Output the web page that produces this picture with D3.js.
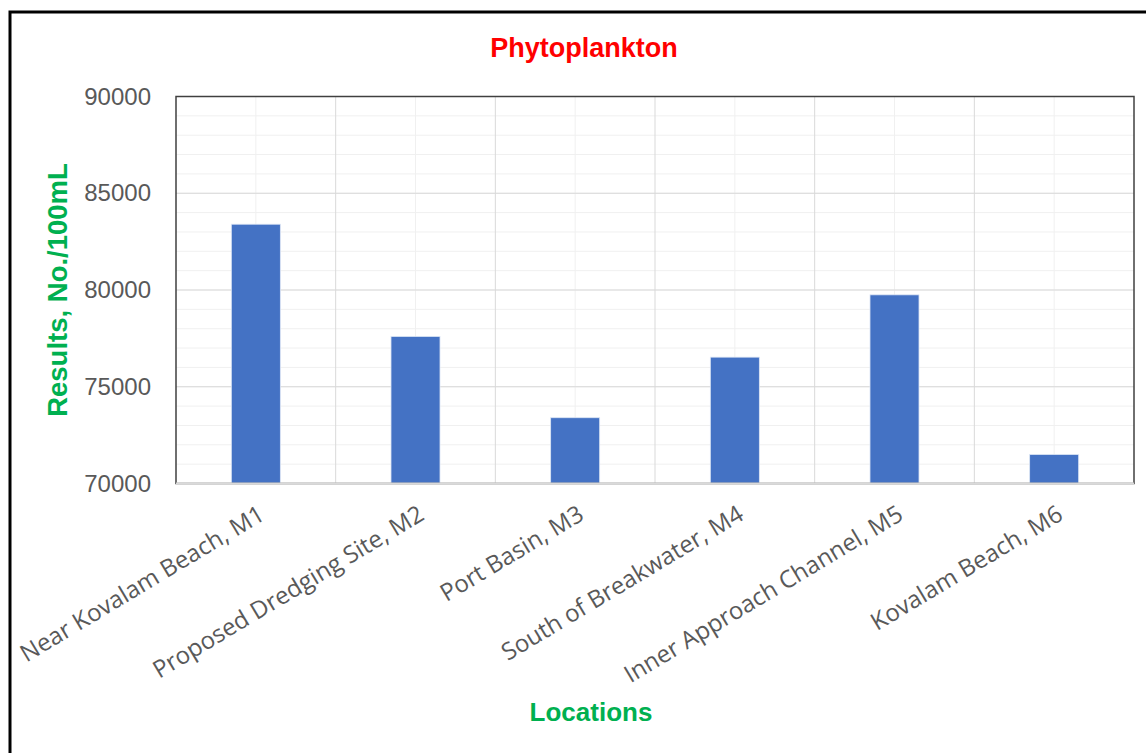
<!DOCTYPE html>
<html>
<head>
<meta charset="utf-8">
<script src="https://cdn.jsdelivr.net/npm/d3@7"></script>
<style>
  body { margin: 0; background: #fff; }
  svg { display: block; font-family: "Liberation Sans", Arial, sans-serif; }
</style>
</head>
<body>
<script>
// data
var locations = ["Near Kovalam Beach, M1", "Proposed Dredging Site, M2", "Port Basin, M3",
                 "South of Breakwater, M4", "Inner Approach Channel, M5", "Kovalam Beach, M6"];
var results = [83400, 77600, 73400, 76530, 79750, 71500];
var yTicks = [70000, 75000, 80000, 85000, 90000];
var yMinorTicks = d3.range(70000, 90001, 1000);

var width = 1146, height = 753;
var margin = { left: 176, top: 96.5, right: 12, bottom: 269.5 };
var plotW = width - margin.left - margin.right;
var plotH = height - margin.top - margin.bottom;

var svg = d3.select("body").append("svg").attr("width", width).attr("height", height);

// outer frame (only top/left visible, rest cut off)
svg.append("rect")
    .attr("x", 10).attr("y", 12)
    .attr("width", 2000).attr("height", 2000)
    .attr("fill", "none").attr("stroke", "#000").attr("stroke-width", 3);

var x = d3.scaleBand().domain(locations).range([0, plotW]).paddingInner(0.693).paddingOuter(0.3465);
var xCat = d3.scaleBand().domain(locations).range([0, plotW]);
var y = d3.scaleLinear().domain([70000, 90000]).range([plotH, 0]);

var g = svg.append("g").attr("transform", "translate(" + margin.left + "," + margin.top + ")");

// minor grid
g.selectAll("line.hminor").data(yMinorTicks).enter().append("line")
    .attr("class", "hminor")
    .attr("x1", 0).attr("x2", plotW)
    .attr("y1", function (d) { return y(d); }).attr("y2", function (d) { return y(d); })
    .attr("stroke", "#f0f0f0").attr("stroke-width", 1);
g.selectAll("line.vminor").data(locations).enter().append("line")
    .attr("class", "vminor")
    .attr("x1", function (d) { return xCat(d) + xCat.bandwidth() / 2; })
    .attr("x2", function (d) { return xCat(d) + xCat.bandwidth() / 2; })
    .attr("y1", 0).attr("y2", plotH)
    .attr("stroke", "#f0f0f0").attr("stroke-width", 1);

// major grid
g.selectAll("line.hmajor").data(yTicks).enter().append("line")
    .attr("class", "hmajor")
    .attr("x1", 0).attr("x2", plotW)
    .attr("y1", function (d) { return y(d); }).attr("y2", function (d) { return y(d); })
    .attr("stroke", "#d9d9d9").attr("stroke-width", 1);
g.selectAll("line.vmajor").data(locations.slice(1)).enter().append("line")
    .attr("class", "vmajor")
    .attr("x1", function (d) { return xCat(d); }).attr("x2", function (d) { return xCat(d); })
    .attr("y1", 0).attr("y2", plotH)
    .attr("stroke", "#d9d9d9").attr("stroke-width", 1);

// bars
g.selectAll("rect.bar").data(results).enter().append("rect")
    .attr("class", "bar")
    .attr("x", function (d, i) { return x(locations[i]); })
    .attr("width", x.bandwidth())
    .attr("y", function (d) { return y(d); })
    .attr("height", function (d) { return plotH - y(d); })
    .attr("fill", "#4472c4")
    .attr("stroke", "#dde6f5").attr("stroke-width", 0.8);

// plot border
g.append("rect")
    .attr("x", 0).attr("y", 0).attr("width", plotW).attr("height", plotH)
    .attr("fill", "none").attr("stroke", "#404040").attr("stroke-width", 1.5);
g.append("line")
    .attr("x1", 0).attr("x2", plotW).attr("y1", plotH).attr("y2", plotH)
    .attr("stroke", "#d9d9d9").attr("stroke-width", 2);

// y axis labels
var yAxis = d3.axisLeft(y).tickValues(yTicks).tickSize(0).tickPadding(25).tickFormat(d3.format("d"));
var ya = g.append("g").call(yAxis);
ya.select(".domain").remove();
ya.selectAll("text").attr("fill", "#595959").attr("font-size", 24)
    .attr("font-family", "Liberation Sans, Arial, sans-serif");

// x axis labels
var xAxis = d3.axisBottom(xCat).tickSize(0).tickPadding(0);
var xa = g.append("g").attr("transform", "translate(0," + plotH + ")").call(xAxis);
xa.select(".domain").remove();
xa.selectAll("text")
    .attr("fill", "#595959").attr("font-size", 24)
    .attr("font-family", "Open Sans, sans-serif")
    .style("text-anchor", "end")
    .attr("x", 6).attr("y", 28).attr("dy", "0.35em")
    .attr("transform", "rotate(-31, 6, 28)");

// title and axis titles
svg.append("text")
    .attr("x", 584).attr("y", 57)
    .attr("text-anchor", "middle")
    .attr("font-size", 27).attr("font-weight", "bold")
    .attr("fill", "#ff0000")
    .text("Phytoplankton");

svg.append("text")
    .attr("transform", "translate(67,290) rotate(-90)")
    .attr("text-anchor", "middle")
    .attr("font-size", 27.5).attr("font-weight", "bold")
    .attr("fill", "#00b050")
    .text("Results, No./100mL");

svg.append("text")
    .attr("x", 591).attr("y", 721)
    .attr("text-anchor", "middle")
    .attr("font-size", 26).attr("font-weight", "bold")
    .attr("fill", "#00b050")
    .text("Locations");
</script>
</body>
</html>
